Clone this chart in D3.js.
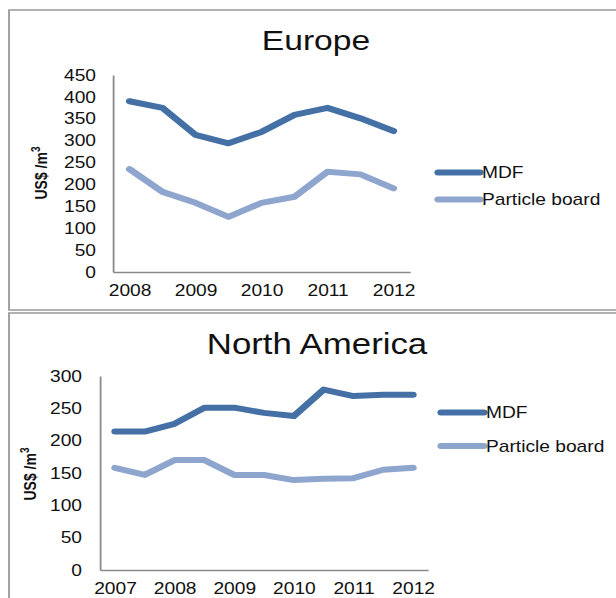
<!DOCTYPE html>
<html>
<head>
<meta charset="utf-8">
<script src="https://cdn.jsdelivr.net/npm/d3@7"></script>
<style>
  html, body { margin: 0; padding: 0; background: #fff; }
  svg { display: block; }
  text { font-family: "Liberation Sans", Arial, sans-serif; fill: #111; }
</style>
</head>
<body>
<svg id="chart"></svg>
<script>
// ---- data ----
const seriesNames = ["MDF", "Particle board"];

const europeTitle = "Europe";
const europeTimes = [2008, 2008.5, 2009, 2009.5, 2010, 2010.5, 2011, 2011.5, 2012];
const europeMDF = [390, 375, 313, 294, 320, 359, 375, 351, 322];
const europeParticle = [235, 183, 158, 126, 158, 172, 229, 223, 191];
const europeYearLabels = [2008, 2009, 2010, 2011, 2012];
const europeValueTicks = [0, 50, 100, 150, 200, 250, 300, 350, 400, 450];

const naTitle = "North America";
const naTimes = [2007, 2007.5, 2008, 2008.5, 2009, 2009.5, 2010, 2010.5, 2011, 2011.5, 2012];
const naMDF = [214, 214, 226, 251, 251, 243, 238, 279, 269, 271, 271];
const naParticle = [158, 147, 170, 170, 147, 147, 139, 141, 142, 155, 158];
const naYearLabels = [2007, 2008, 2009, 2010, 2011, 2012];
const naValueTicks = [0, 50, 100, 150, 200, 250, 300];

const seriesColors = ["#4470a6", "#8ea6ce"];
const axisTitle = "US$ /m";

// ---- canvas: the drawing is laid out in a slightly narrower space and
// stretched horizontally to the page width ----
const W = 616, H = 598, K = 1.2;
const sx = v => v / K;

const svg = d3.select("#chart")
  .attr("width", W).attr("height", H)
  .attr("viewBox", `0 0 ${W / K} ${H}`)
  .attr("preserveAspectRatio", "none");

function panel(cfg) {
  const g = svg.append("g");

  // frame
  g.append("rect")
    .attr("x", sx(cfg.box[0])).attr("y", cfg.box[1])
    .attr("width", sx(cfg.box[2])).attr("height", cfg.box[3])
    .attr("fill", "none").attr("stroke", "#999").attr("stroke-width", 1.5);

  // title
  g.append("text")
    .attr("x", sx(cfg.titleX)).attr("y", cfg.titleY)
    .attr("text-anchor", "middle")
    .style("font-size", cfg.titleSize + "px")
    .text(cfg.title);

  const x = d3.scaleLinear().domain(cfg.xDomain).range([sx(cfg.plot[0]), sx(cfg.plot[1])]);
  const y = d3.scaleLinear().domain(cfg.yDomain).range([cfg.plot[3], cfg.plot[2]]);

  // y axis
  const ya = g.append("g")
    .attr("transform", `translate(${sx(cfg.plot[0])},0)`)
    .call(d3.axisLeft(y).tickValues(cfg.yTicks).tickSize(0)
      .tickPadding(cfg.yPad / K).tickFormat(d3.format("d")));
  ya.select(".domain").attr("stroke", "#8a8a8a").attr("stroke-width", 1.5);
  ya.selectAll("text").style("font-size", "16px").attr("fill", "#111")
    .style("font-family", '"Liberation Sans", Arial, sans-serif');

  // x axis
  const xa = g.append("g")
    .attr("transform", `translate(0,${cfg.plot[3]})`)
    .call(d3.axisBottom(x).tickValues(cfg.xTicks).tickSize(0)
      .tickPadding(13).tickFormat(d3.format("d")));
  xa.select(".domain").attr("stroke", "#8a8a8a").attr("stroke-width", 1.5);
  xa.selectAll("text").style("font-size", "16px").attr("fill", "#111")
    .style("font-family", '"Liberation Sans", Arial, sans-serif');

  // axis title
  const at = g.append("text")
    .attr("transform", `translate(${sx(cfg.axisTitleX)},${cfg.axisTitleY}) rotate(-90)`)
    .attr("text-anchor", "middle")
    .style("font-size", "14px").style("font-weight", "bold");
  at.append("tspan").text(axisTitle);
  at.append("tspan").attr("dy", -6).style("font-size", "10px").text("3");

  // series lines
  const line = d3.line().x(d => x(d[0])).y(d => y(d[1]));
  cfg.series.forEach((vals, i) => {
    g.append("path")
      .datum(cfg.times.map((t, j) => [t, vals[j]]))
      .attr("d", line)
      .attr("fill", "none")
      .attr("stroke", seriesColors[i])
      .attr("stroke-width", 6)
      .attr("stroke-linejoin", "round")
      .attr("stroke-linecap", "round");
  });

  // legend
  seriesNames.forEach((name, i) => {
    const ly = cfg.legend[2] + i * cfg.legend[3];
    g.append("line")
      .attr("x1", sx(cfg.legend[0])).attr("x2", sx(cfg.legend[1]))
      .attr("y1", ly).attr("y2", ly)
      .attr("stroke", seriesColors[i]).attr("stroke-width", 6)
      .attr("stroke-linecap", "round");
    g.append("text")
      .attr("x", sx(cfg.legend[1] + 2)).attr("y", ly)
      .attr("dy", "0.36em")
      .style("font-size", "16px")
      .text(name);
  });
}

panel({
  box: [9, 10, 640, 300],
  title: europeTitle, titleSize: 28, titleX: 316, titleY: 50,
  plot: [113, 410, 75, 272],
  xDomain: [2007.75, 2012.25], yDomain: [0, 450],
  xTicks: europeYearLabels, yTicks: europeValueTicks, yPad: 17,
  axisTitleX: 47, axisTitleY: 173,
  times: europeTimes, series: [europeMDF, europeParticle],
  legend: [438, 480, 172.5, 27]
});

panel({
  box: [9, 313, 640, 320],
  title: naTitle, titleSize: 29, titleX: 317, titleY: 354,
  plot: [100, 428, 376, 570],
  xDomain: [2006.75, 2012.25], yDomain: [0, 300],
  xTicks: naYearLabels, yTicks: naValueTicks, yPad: 18,
  axisTitleX: 36, axisTitleY: 474,
  times: naTimes, series: [naMDF, naParticle],
  legend: [441, 484, 412.5, 33.5]
});
</script>
</body>
</html>
